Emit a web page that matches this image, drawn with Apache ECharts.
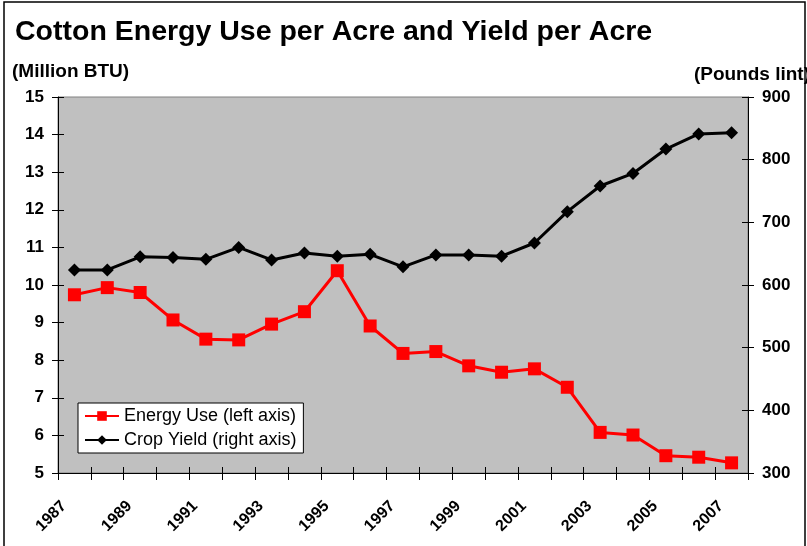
<!DOCTYPE html>
<html>
<head>
<meta charset="utf-8">
<title>Cotton Energy Use per Acre and Yield per Acre</title>
<script src="https://cdn.jsdelivr.net/npm/echarts@6/dist/echarts.min.js"></script>
<style>
  html, body { margin: 0; padding: 0; background: #fff; }
  #chart { width: 807px; height: 546px; }
</style>
</head>
<body>
<div id="chart"></div>
<script>
// Data
const years = ['1987', '1988', '1989', '1990', '1991', '1992', '1993', '1994', '1995', '1996',
  '1997', '1998', '1999', '2000', '2001', '2002', '2003', '2004', '2005', '2006', '2007'];

// Million BTU per acre (left axis)
const energyUse = [9.74, 9.93, 9.80, 9.07, 8.56, 8.54, 8.96, 9.29, 10.38, 8.91,
  8.18, 8.23, 7.85, 7.68, 7.77, 7.28, 6.08, 6.01, 5.46, 5.42, 5.27];

// Pounds lint per acre (right axis)
const cropYield = [624, 624, 645, 644, 641, 660, 640, 651, 646, 649,
  629, 648, 648, 646, 667, 717, 758, 778, 817, 841, 843];

const chart = echarts.init(document.getElementById('chart'));

const font = 'Liberation Sans, Arial, sans-serif';
const axisColor = '#000';

// inside copies of the axes give Excel-style "cross" tick marks
const yInside = (min, max, interval, pos) => ({
  type: 'value', min, max, interval, position: pos,
  axisLine: { show: false },
  axisTick: { show: true, inside: true, length: 6, lineStyle: { color: axisColor } },
  axisLabel: { show: false },
  splitLine: { show: false }
});

const option = {
  backgroundColor: '#fff',
  animation: false,
  textStyle: { fontFamily: font },
  title: {
    text: 'Cotton Energy Use per Acre and Yield per Acre',
    left: 10,
    top: 13,
    textStyle: { fontSize: 28.5, fontWeight: 'bold', color: '#000', fontFamily: font }
  },
  graphic: [
    {
      type: 'rect',
      shape: { x: 4, y: 2, width: 801, height: 600 },
      style: { fill: 'none', stroke: '#000', lineWidth: 1.5 },
      silent: true
    },
    {
      type: 'text', left: 12, top: 62,
      style: { text: '(Million BTU)', font: 'bold 19px ' + font, fill: '#000' }
    },
    {
      type: 'text', right: -3, top: 65,
      style: { text: '(Pounds lint)', font: 'bold 19px ' + font, fill: '#000' }
    }
  ],
  legend: {
    orient: 'vertical',
    left: 78,
    top: 403,
    padding: [4, 7, 4, 6],
    itemGap: 6,
    itemWidth: 34,
    itemHeight: 12,
    backgroundColor: '#fff',
    borderColor: '#000',
    borderWidth: 1,
    borderRadius: 0,
    textStyle: { fontSize: 18, color: '#000', fontFamily: font },
    data: ['Energy Use (left axis)', 'Crop Yield (right axis)']
  },
  grid: {
    left: 58, right: 59, top: 97, bottom: 73,
    show: true,
    backgroundColor: '#C0C0C0',
    borderColor: '#808080',
    borderWidth: 1
  },
  xAxis: [
    {
      type: 'category',
      data: years,
      boundaryGap: true,
      axisLine: { lineStyle: { color: axisColor, width: 1 } },
      axisTick: { show: true, length: 7, interval: 0, lineStyle: { color: axisColor } },
      axisLabel: {
        interval: 1,
        rotate: 45,
        margin: 20,
        padding: [0, 15, 0, 0],
        fontSize: 16,
        fontWeight: 'bold',
        color: '#000',
        fontFamily: font
      },
      splitLine: { show: false }
    },
    {
      type: 'category',
      data: years,
      position: 'bottom',
      boundaryGap: true,
      axisLine: { show: false },
      axisTick: { show: true, inside: true, length: 6, interval: 0, lineStyle: { color: axisColor } },
      axisLabel: { show: false },
      splitLine: { show: false }
    }
  ],
  yAxis: [
    {
      type: 'value',
      min: 5, max: 15, interval: 1,
      position: 'left',
      axisLine: { show: true, lineStyle: { color: axisColor } },
      axisTick: { show: true, length: 6, lineStyle: { color: axisColor } },
      axisLabel: { fontSize: 17, fontWeight: 'bold', color: '#000', margin: 14, fontFamily: font },
      splitLine: { show: false }
    },
    {
      type: 'value',
      min: 300, max: 900, interval: 100,
      position: 'right',
      axisLine: { show: true, lineStyle: { color: axisColor } },
      axisTick: { show: true, length: 6, lineStyle: { color: axisColor } },
      axisLabel: { fontSize: 17, fontWeight: 'bold', color: '#000', margin: 14, fontFamily: font },
      splitLine: { show: false }
    },
    yInside(5, 15, 1, 'left'),
    yInside(300, 900, 100, 'right')
  ],
  series: [
    {
      name: 'Energy Use (left axis)',
      type: 'line',
      yAxisIndex: 0,
      data: energyUse,
      symbol: 'rect',
      symbolSize: 13,
      color: '#FF0000',
      lineStyle: { color: '#FF0000', width: 3 },
      itemStyle: { color: '#FF0000' },
      z: 3
    },
    {
      name: 'Crop Yield (right axis)',
      type: 'line',
      yAxisIndex: 1,
      data: cropYield,
      symbol: 'diamond',
      symbolSize: 13,
      color: '#000',
      lineStyle: { color: '#000', width: 3 },
      itemStyle: { color: '#000' },
      z: 2
    }
  ]
};

chart.setOption(option);
</script>
</body>
</html>
